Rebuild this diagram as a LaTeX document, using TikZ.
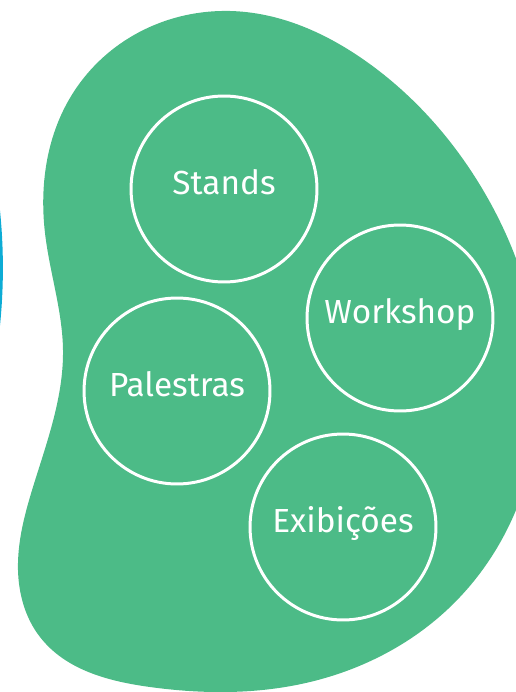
\documentclass[tikz,border=0pt]{standalone}
\usepackage{fontspec}
\setmainfont{Fira Sans}
\usepackage{tikz}
\usetikzlibrary{positioning,hobby}

\definecolor{blobgreen}{RGB}{76,187,135}
\definecolor{edgeblue}{RGB}{13,172,213}

\begin{document}
\begin{tikzpicture}[x = 0.02cm, y = -0.02cm,
    topic/.style = {circle, draw = white, line width = 1.7pt, minimum size = 3.72cm,
                    inner sep = 0pt, text = white, font = \fontsize{19}{23}\selectfont,
                    text height = 0.7em, text depth = 0.08em}]
                \clip (0,0) rectangle (516,692);
                \fill[edgeblue] (-559,268) circle (11.24cm);
                \fill[blobgreen] (230,11) to[closed, curve through = {
                    (367,62) (483,190) (540,380) (460,597) (310,682) (150,687)
                    (40,637) (18,570) (33,487) (63,350) (45,233) (77,87)}] (230,11);
                \node[topic] (stands) at (224,189) {Stands};
                \node[topic] (workshop) at (400,318) {Workshop};
                \node[topic] (palestras) at (177,391) {Palestras};
                \node[topic] (exibicoes) at (343,527) {Exibições};
            \end{tikzpicture}
\end{document}
